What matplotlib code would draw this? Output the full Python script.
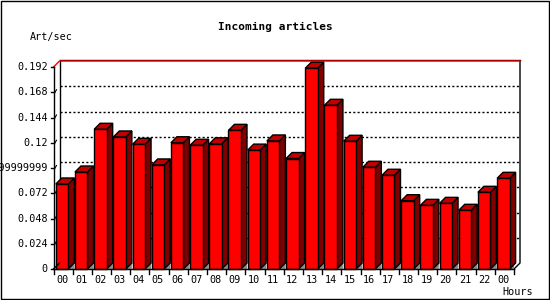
import matplotlib
matplotlib.use("Agg")
import matplotlib.pyplot as plt
from matplotlib.patches import Polygon, Rectangle

# data
hours = ["00", "01", "02", "03", "04", "05", "06", "07", "08", "09", "10", "11",
         "12", "13", "14", "15", "16", "17", "18", "19", "20", "21", "22", "00"]
art_per_sec = [0.0808, 0.0922, 0.1328, 0.1255, 0.1185, 0.0989, 0.1200, 0.1176,
               0.1190, 0.1318, 0.1130, 0.1217, 0.1050, 0.1908, 0.1556, 0.1214,
               0.0967, 0.0891, 0.0649, 0.0605, 0.0624, 0.0558, 0.0729, 0.0862]
y_ticks = [0, 0.024, 0.048, 0.072, 0.096, 0.12, 0.144, 0.168, 0.192]
y_labels = ["0", "0.024", "0.048", "0.072", "0.09599999999999999",
            "0.12", "0.144", "0.168", "0.192"]

W, H = 550, 300
fig = plt.figure(figsize=(W / 100, H / 100), dpi=100)
fig.patch.set_facecolor("white")

# plot area in pixels
x0, x1, yb, yt = 53.5, 514, 269, 67
ax = fig.add_axes([x0 / W, (H - yb) / H, (x1 - x0) / W, (yb - yt) / H])
n = len(hours)
ymax = y_ticks[-1]
ax.set_xlim(0, n)
ax.set_ylim(0, ymax)
ax.axis("off")

# 3d depth of 6 px converted to data units
ux = n / (x1 - x0)
uy = ymax / (yb - yt)
dx, dy = 6 * ux, 6 * uy

# back plane
ax.add_patch(Rectangle((dx, dy), n, ymax, facecolor="white", edgecolor="none", zorder=0, clip_on=False))
for v in y_ticks[1:-1]:
    ax.plot([dx, n + dx], [v + dy, v + dy], color="black", lw=1, ls=(0, (1.5, 1.6)), zorder=1, clip_on=False)
ax.plot([dx, dx], [dy, ymax + dy], color="black", lw=1, zorder=1, clip_on=False)
ax.plot([n + dx, n + dx, n], [ymax + dy, dy, 0], color="black", lw=1, zorder=1, clip_on=False)
ax.plot([dx, n + dx], [ymax + dy + 0.6 * uy, ymax + dy + 0.6 * uy], color="black", lw=1, zorder=1, clip_on=False)
ax.plot([0, dx, n + dx], [ymax, ymax + dy, ymax + dy], color="red", lw=1, zorder=2, clip_on=False)

# axes lines
ax.plot([0, 0], [0, ymax], color="black", lw=1, zorder=5, clip_on=False)
ax.plot([0, n], [0, 0], color="black", lw=1, zorder=5, clip_on=False)
ax.plot([0, dx], [0, dy], color="black", lw=1, zorder=5, clip_on=False)
for v, lab in zip(y_ticks, y_labels):
    ax.plot([-3 * ux, 0], [v, v], color="black", lw=1, clip_on=False)
    if 0 < v < ymax:
        ax.plot([1.5 * ux, 3 * ux], [v, v + 2.5 * uy], color="black", lw=0.8, clip_on=False)
    ax.text(-5.5 * ux, v, lab, ha="right", va="center",
            family="DejaVu Sans Mono", fontsize=7.3, clip_on=False)
for k in range(n + 1):
    ax.plot([k, k], [0, -4.5 * uy], color="black", lw=1, clip_on=False)

# 3d bars
bw = 12.5 * ux
off = 2.3 * ux
for k, v in enumerate(art_per_sec):
    l = k + off
    r = l + bw
    ax.add_patch(Polygon([(r, 0), (r + dx, dy), (r + dx, 0)], closed=True,
                         facecolor="#8c8c8c", edgecolor="none", zorder=3))
    ax.add_patch(Polygon([(r, 0), (r + dx, dy), (r + dx, v + dy), (r, v)], closed=True,
                         facecolor="#800000", edgecolor="black", lw=1, zorder=3, clip_on=False))
    ax.add_patch(Polygon([(l, v), (l + dx, v + dy), (r + dx, v + dy), (r, v)], closed=True,
                         facecolor="#c00000", edgecolor="black", lw=1, zorder=3, clip_on=False))
    ax.add_patch(Rectangle((l, 0), bw, v, facecolor="#ff0000", edgecolor="black", lw=1, zorder=4, clip_on=False))
    ax.text(l + bw / 2, -11 * uy, hours[k], ha="center", va="center",
            family="DejaVu Sans Mono", fontsize=7.3)

# titles
fig.text(0.5, 1 - 27 / H, "Incoming articles", ha="center", va="center",
         family="DejaVu Sans Mono", fontweight="bold", fontsize=8)
fig.text(30 / W, 1 - 37 / H, "Art/sec", ha="left", va="center",
         family="DejaVu Sans Mono", fontsize=7.3)
fig.text(533 / W, 1 - 292 / H, "Hours", ha="right", va="center",
         family="DejaVu Sans Mono", fontsize=7.3)

# image frame
fig.patches.append(Rectangle((0.5 / W, 1.5 / H), 548 / W, 297.5 / H, transform=fig.transFigure,
                             fill=False, edgecolor="black", lw=1))

fig.savefig("out.png", dpi=100)
